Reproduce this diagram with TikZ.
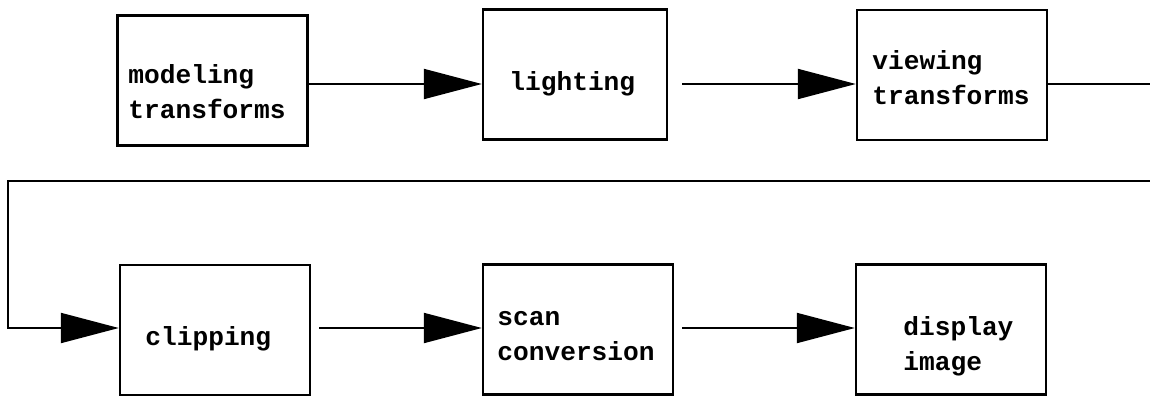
\documentclass[tikz,border=0pt]{standalone}
\usepackage{fontspec}
\setmonofont{Liberation Mono}
\usetikzlibrary{arrows.meta}

\begin{document}
\begin{tikzpicture}[x=0.5pt,y=-0.5pt,
  stage/.style={draw,line width=1.2pt,inner sep=0pt,minimum height=65pt,minimum width=#1},
  stage/.default=95pt,
  caption/.style={anchor=base west,inner sep=0pt,align=left,
    font=\ttfamily\bfseries\fontsize{13.1pt}{17.5pt}\selectfont},
  link/.style={line width=1pt},
  flow/.style={link,-{Triangle[length=29pt,width=15pt]}}]

\useasboundingbox (0,0) rectangle (1150,396);

% the six stages
\node[stage] (model) at (212.5,80.5) {};
\node[stage=92pt] (light) at (575,74.5) {};
\node[stage] (view) at (952,75) {};
\node[stage] (clip) at (215,330) {};
\node[stage] (scan) at (578,329.5) {};
\node[stage] (disp) at (951,329.5) {};

% captions, placed by the baseline of their last line
\node[caption] (modelT) at (128,118) {modeling\\transforms};
\node[caption] (lightT) at (509,90) {lighting};
\node[caption] (viewT) at (872,104) {viewing\\transforms};
\node[caption] (clipT) at (145,345) {clipping};
\node[caption] (scanT) at (497,360) {scan\\conversion};
\node[caption] (dispT) at (903,370) {display\\image};

% rows and the turn back
\coordinate (r1) at (0,84);
\coordinate (r2) at (0,328);
\coordinate (edgeR) at (1150,84);
\coordinate (turnR) at (1150,181);
\coordinate (turnL) at (8,181);

\draw[flow] (model.east |- r1) -- (light.west |- r1);
\draw[flow,shorten <=7pt] (light.east |- r1) -- (view.west |- r1);
\draw[link] (view.east |- r1) -- (edgeR);
\draw[flow] (turnR) -- (turnL) |- (clip.west |- r2);
\draw[flow,shorten <=4pt] (clip.east |- r2) -- (scan.west |- r2);
\draw[flow,shorten <=4pt] (scan.east |- r2) -- (disp.west |- r2);

\end{tikzpicture}
\end{document}
